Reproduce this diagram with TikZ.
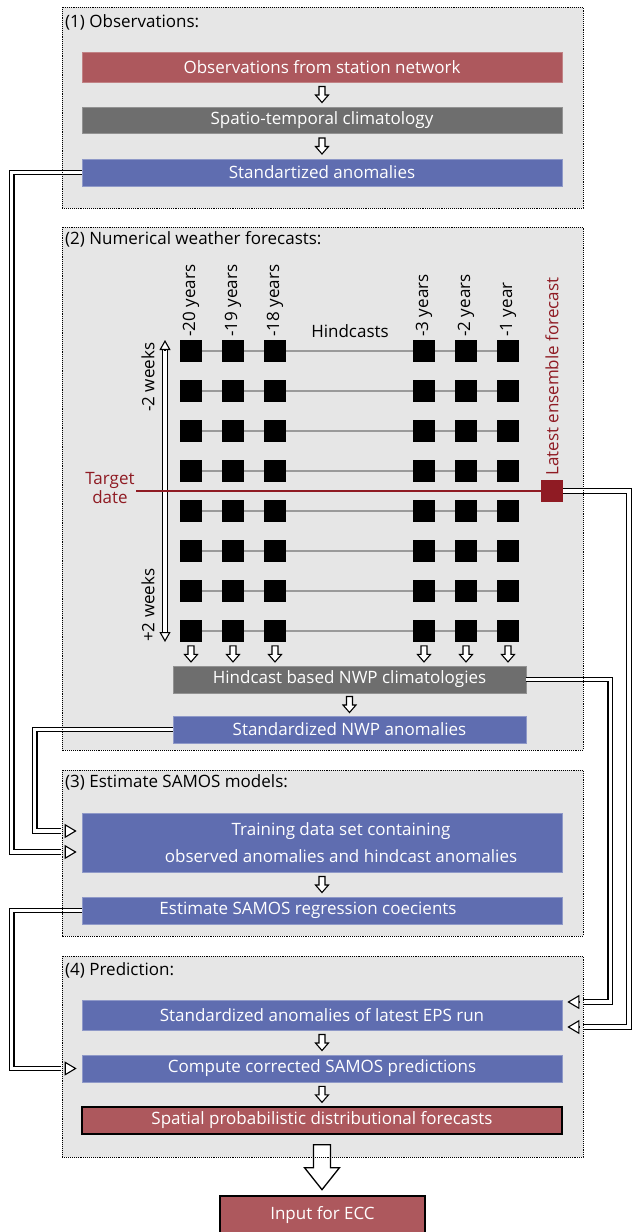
\documentclass[tikz,border=0pt]{standalone}
\usepackage{fontspec}
\setmainfont{Open Sans}
\usetikzlibrary{arrows.meta,calc}

\definecolor{panelgray}{HTML}{E6E6E6}
\definecolor{obsred}{HTML}{AD585D}
\definecolor{climgray}{HTML}{6E6E6E}
\definecolor{anomblue}{HTML}{5F6DB0}
\definecolor{targetred}{HTML}{8F1B23}
\definecolor{hindline}{HTML}{9A9A9A}

\tikzset{
  every node/.style={font=\fontsize{17}{27}\selectfont},
  panelbg/.style={fill=panelgray},
  panelframe/.style={draw=black, densely dotted, line width=0.9pt},
  flowbox/.style={minimum width=480pt, inner sep=0pt, text=white, line width=0.7pt},
  redbox/.style={flowbox, fill=obsred, draw=obsred!75!white},
  graybox/.style={flowbox, fill=climgray, draw=climgray!75!white},
  bluebox/.style={flowbox, fill=anomblue, draw=anomblue!70!white},
  outbox/.style={flowbox, fill=obsred, draw=black, line width=1.3pt},
  boxtext/.style={text=white, inner sep=0pt, align=center},
  paneltitle/.style={anchor=west, inner sep=0pt},
  uplabel/.style={rotate=90, anchor=west, inner sep=0pt},
  sq/.style={fill=black, minimum size=22pt, inner sep=0pt},
  hline/.style={draw=hindline, line width=2pt},
  pipe/.style={draw=black, line width=1.1pt, double=white, double distance=3.6pt},
  pipetip/.style={line width=1.1pt, -{Triangle[length=12pt, width=14pt, fill=white]}},
  axistip/.style={line width=1.1pt, -{Triangle[length=10pt, width=11pt, fill=white]}},
  smallarrow/.pic={
    \draw[fill=white, line width=1.1pt, line join=miter]
      (-3,-8) -- (-3,0.5) -- (-6.5,0.5) -- (0,8) -- (6.5,0.5) -- (3,0.5) -- (3,-8) -- cycle;
  },
  bigarrow/.pic={
    \draw[fill=white, line width=1.3pt, line join=miter]
      (-8.5,0) -- (-8.5,23) -- (-17.5,23) -- (0,45) -- (17.5,23) -- (8.5,23) -- (8.5,0) -- cycle;
  }
}

\begin{document}
\begin{tikzpicture}[x=1pt, y=-1pt]
\useasboundingbox (0,0) rectangle (632,1232);
\fill[white] (0,0) rectangle (632,1232);

% panel backgrounds
\path[panelbg] (62,7) rectangle (583,208);
\path[panelbg] (62,227) rectangle (583,750);
\path[panelbg] (62,770) rectangle (583,936);
\path[panelbg] (62,956) rectangle (583,1157);

% (1) observations
\node[paneltitle] (t1) at (65,22) {(1) Observations:};
\node[redbox, minimum height=30pt] (obs) at (322,67) {Observations from station network};
\node[graybox, minimum height=26pt] (clim) at (322,120) {Spatio-temporal climatology};
\node[bluebox, minimum height=27pt] (anom) at (322,172.5) {Standartized anomalies};
\pic at ($(obs.south)!.5!(clim.north)$) {smallarrow};
\pic at ($(clim.south)!.5!(anom.north)$) {smallarrow};

% (2) numerical weather forecasts
\node[paneltitle] (t2) at (65,239) {(2) Numerical weather forecasts:};
\foreach \c/\x in {1/191,2/233,3/275,4/424,5/466,6/508} {
  \foreach \r in {1,...,8} {
    \node[sq] (s-\r-\c) at (\x,{311+40*\r}) {};
  }
}
\foreach \r in {1,...,8} {
  \foreach \a/\b in {1/2,2/3,3/4,4/5,5/6} {
    \draw[hline] (s-\r-\a) -- (s-\r-\b);
  }
}
\foreach \c/\t in {1/-20 years,2/-19 years,3/-18 years,4/-3 years,5/-2 years,6/-1 year} {
  \node[uplabel] (yr-\c) at ($(s-1-\c.north)+(0,-3)$) {\t};
}
\node[anchor=base, inner sep=0pt] (hindcasts) at (350,337) {Hindcasts};

% time axis
\coordinate (ttop) at (165,340);
\coordinate (tbot) at (165,642);
\draw[pipe, shorten <=9pt, shorten >=9pt] (ttop) -- (tbot);
\draw[axistip] ($(ttop)+(0,10)$) -- (ttop);
\draw[axistip] ($(tbot)+(0,-10)$) -- (tbot);
\node[uplabel] (wminus) at (148,412) {-2 weeks};
\node[uplabel] (wplus) at (148,642) {+2 weeks};

% target date and latest forecast
\node[sq, fill=targetred] (latest) at (552,491) {};
\node[uplabel, text=targetred] (latestlbl) at (552,476) {Latest ensemble forecast};
\node[align=center, text=targetred, inner sep=0pt, font=\fontsize{17}{19}\selectfont] (tdate) at (110,488) {Target\\date};
\coordinate (tstart) at (136,491);
\draw[targetred, line width=1.5pt] (tstart) -- (latest);

\node[graybox, minimum width=353pt, minimum height=27pt] (hcclim) at (349.5,679.5) {Hindcast based NWP climatologies};
\node[bluebox, minimum width=353pt, minimum height=27pt] (nwpanom) at (349.5,729.5) {Standardized NWP anomalies};
\foreach \c in {1,...,6} {
  \pic at ($(s-8-\c.south)!.5!(s-8-\c.south |- hcclim.north)$) {smallarrow};
}
\pic at ($(hcclim.south)!.5!(nwpanom.north)$) {smallarrow};

% (3) SAMOS models
\node[paneltitle] (t3) at (65,782) {(3) Estimate SAMOS models:};
\node[bluebox, minimum height=59pt] (train) at (322,842.5) {};
\node[boxtext] (traintext) at (341,842.5) {Training data set containing\\observed anomalies and hindcast anomalies};
\node[bluebox, minimum height=27pt] (est) at (322,910.5) {};
\node[boxtext] (esttext) at (308,910.5) {Estimate SAMOS regression coecients};
\pic at ($(train.south)!.5!(est.north)$) {smallarrow};

% (4) prediction
\node[paneltitle] (t4) at (65,970) {(4) Prediction:};
\node[bluebox, minimum height=30pt] (eps) at (322,1015) {Standardized anomalies of latest EPS run};
\node[bluebox, minimum height=27pt] (comp) at (322,1068.5) {Compute corrected SAMOS predictions};
\node[outbox, minimum height=27pt] (spat) at (322,1120.5) {Spatial probabilistic distributional forecasts};
\pic at ($(eps.south)!.5!(comp.north)$) {smallarrow};
\pic at ($(comp.south)!.5!(spat.north)$) {smallarrow};

\node[outbox, minimum width=205pt, minimum height=38pt] (ecc) at (322.5,1215) {Input for ECC};
\pic at ($(spat.south)+(0,10)$) {bigarrow};

% feeding pipes
\draw[pipe, shorten >=16pt] (anom.west) -- ++(-70,0) |- ($(train.west)+(-5,9.5)$);
\draw[pipetip] ($(train.west)+(-17,9.5)$) -- ($(train.west)+(-5,9.5)$);
\draw[pipe, shorten >=16pt] (nwpanom.west) -- ++(-138,0) |- ($(train.west)+(-5,-11.5)$);
\draw[pipetip] ($(train.west)+(-17,-11.5)$) -- ($(train.west)+(-5,-11.5)$);
\draw[pipe, shorten >=16pt] (est.west) -- ++(-70,0) |- ($(comp.west)+(-5,0)$);
\draw[pipetip] ($(comp.west)+(-17,0)$) -- ($(comp.west)+(-5,0)$);
\draw[pipe, shorten >=16pt] (hcclim.east) -- ++(84,0) |- ($(eps.east)+(5,-13)$);
\draw[pipetip] ($(eps.east)+(17,-13)$) -- ($(eps.east)+(5,-13)$);
\draw[pipe, shorten >=16pt] (latest.east) -- ++(66,0) |- ($(eps.east)+(5,12)$);
\draw[pipetip] ($(eps.east)+(17,12)$) -- ($(eps.east)+(5,12)$);

% panel frames
\draw[panelframe] (62,7) rectangle (583,208);
\draw[panelframe] (62,227) rectangle (583,750);
\draw[panelframe] (62,770) rectangle (583,936);
\draw[panelframe] (62,956) rectangle (583,1157);
\end{tikzpicture}
\end{document}
